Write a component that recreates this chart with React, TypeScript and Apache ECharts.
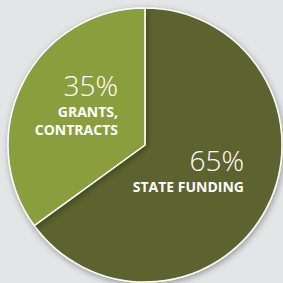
import React, { useEffect, useRef } from "react";
import * as echarts from "echarts";

const names = ["STATE FUNDING", "GRANTS,\nCONTRACTS"];
const values = [65, 35];
const colors = ["#5b632e", "#8a9e3d"];

export default function App() {
  const ref = useRef<HTMLDivElement>(null);
  useEffect(() => {
    const chart = echarts.init(ref.current!, null, { renderer: "svg" });
    const labelPos = [
      { x: 244, y: 143 },
      { x: 118, y: 68 },
    ];
    chart.setOption({
      animation: false,
      backgroundColor: "#e4e5e7",
      series: [
        {
          type: "pie",
          center: [145, 145],
          radius: [0, 137],
          startAngle: 90,
          clockwise: true,
          avoidLabelOverlap: false,
          silent: true,
          itemStyle: {
            borderColor: "#ffffff",
            borderWidth: 1.5,
            shadowBlur: 6,
            shadowOffsetX: 1,
            shadowOffsetY: 2,
            shadowColor: "rgba(0,0,0,0.35)",
          },
          label: {
            show: true,
            position: "inside",
            color: "#ffffff",
            formatter: (p: any) =>
              `{p|${p.value}%}\n` +
              String(p.name)
                .split("\n")
                .map((s) => `{n|${s}}`)
                .join("\n"),
            rich: {
              p: {
                fontFamily: "Open Sans",
                fontWeight: 300,
                fontSize: 28,
                lineHeight: 34,
                color: "#ffffff",
                align: "right",
              },
              n: {
                fontFamily: "Open Sans",
                fontWeight: "bold",
                fontSize: 14,
                lineHeight: 18,
                color: "#ffffff",
                align: "right",
              },
            },
          },
          labelLine: { show: false },
          labelLayout: (params: any) => ({
            x: labelPos[params.dataIndex].x,
            y: labelPos[params.dataIndex].y,
            align: "right",
            verticalAlign: "top",
          }),
          data: values.map((v, i) => ({
            value: v,
            name: names[i],
            itemStyle: { color: colors[i] },
          })),
        },
      ],
    });
    return () => chart.dispose();
  }, []);
  return (
    <div
      ref={ref}
      style={{ position: "fixed", left: 0, top: 0, width: 283, height: 283 }}
    />
  );
}
